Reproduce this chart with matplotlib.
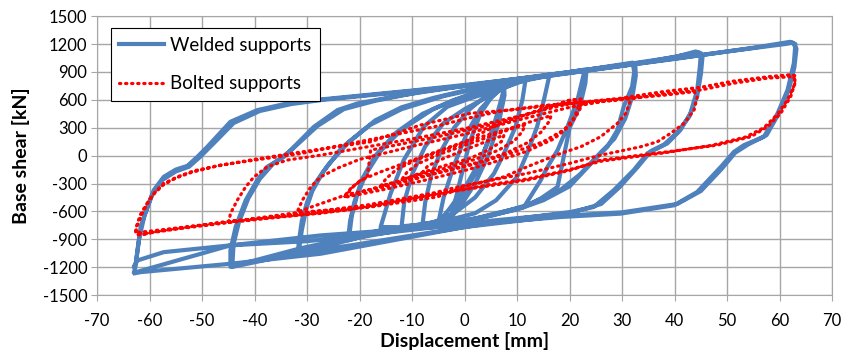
import numpy as np
import matplotlib
matplotlib.use("Agg")
import matplotlib.pyplot as plt

plt.rcParams['font.family'] = ['Lato', 'DejaVu Sans']
plt.rcParams['axes.unicode_minus'] = False

# welded supports - hysteresis loops (displacement mm, base shear kN)
w_small1 = [(-2.7, -700), (-1, -300), (1, 150), (3, 450), (5, 620), (7, 720), (7.4, 690),
            (5.5, 311), (2.4, -156), (-0.8, -479), (-2.7, -700)]
w_small2 = [(-5, -720), (-4, -450), (-2, -100), (0.5, 250), (3, 500), (6, 680), (7.5, 760),
            (7.2, 600), (5.5, 300), (3, -50), (0, -350), (-3, -580), (-5, -720)]
w_8 = [(-8, -730), (-7.5, -500), (-6.3, -200), (-4.5, 50), (-2, 300), (1, 500), (4, 640),
       (7.5, 770), (7.6, 650), (6.5, 350), (4.5, 0), (2, -300), (-1, -560), (-4, -690), (-8, -740)]
w_12 = [(-12, -760), (-11.5, -500), (-10, -200), (-7.5, 100), (-4, 350), (0, 500), (4, 620),
        (8, 740), (11.6, 830), (11.6, 814), (11, 599), (9.7, 311), (7.5, 24), (5.6, -192),
        (2, -450), (-2, -620), (-6, -720), (-12, -770)]
w_16 = [(-16, -768), (-14.1, -408), (-11.6, -48), (-7.8, 311), (-3.3, 526), (1.1, 617),
        (7, 720), (12, 820), (16.3, 875), (16.1, 850), (15.1, 599), (13.8, 311), (11.9, 24),
        (10, -228), (6, -480), (2, -620), (-5, -720), (-10, -770), (-16, -800)]
w_22 = [(-22.2, -900), (-21.8, -700), (-21, -500), (-19.5, -250), (-17, 0), (-13, 250),
        (-8, 450), (-2, 600), (4, 700), (10, 790), (16, 860), (22.8, 925), (22.7, 880),
        (21.5, 599), (19.6, 311), (17.7, 59), (15.8, -120), (14.5, -264), (11.3, -552),
        (5.6, -640), (0, -700), (-10, -780), (-18, -850), (-22.2, -910)]
w_22b = [(-22.0, -880), (-21.5, -650), (-20.5, -430), (-18.8, -200), (-16, 50), (-12, 280),
         (-6, 500), (0, 640), (8, 770), (16, 870), (23.2, 915), (23, 780), (22, 540),
         (20, 300), (17.7, -336), (14.5, -461), (11.3, -552), (5.6, -624), (0, -710),
         (-12, -800), (-22.0, -880)]
w_32 = [(-31.8, -1050), (-31.5, -900), (-31, -700), (-30, -500), (-28.5, -300), (-26, -100),
        (-22, 150), (-17, 380), (-12, 520), (-6, 620), (0, 700), (8, 790), (16, 860),
        (24, 930), (32, 1000), (32.3, 900), (31.9, 742), (30.3, 526), (29.1, 275), (27.2, 95),
        (25.9, 24), (23, -150), (20, -330), (15, -480), (10, -580), (0, -700), (-10, -780),
        (-20, -880), (-31.9, -1052)]
w_32b = [(-31.5, -1000), (-31, -800), (-30.2, -580), (-29, -380), (-27, -180), (-23.5, 80),
         (-18, 330), (-12, 500), (-4, 640), (4, 740), (14, 840), (24, 920), (32.5, 985),
         (32.6, 860), (32, 650), (30.6, 400), (28.5, 180), (26, 40), (22, -200), (18, -380),
         (12, -530), (4, -660), (-8, -760), (-20, -860), (-31.5, -1000)]
w_45 = [(-44.6, -1196), (-44.6, -1016), (-43.6, -766), (-41.7, -480), (-39.5, -264),
        (-37.6, -120), (-34.4, -13), (-28.7, 310), (-24.2, 490), (-20.4, 561), (-12, 650),
        (0, 750), (15, 860), (30, 975), (40, 1060), (44, 1120), (45, 1102), (44.8, 958),
        (44.3, 706), (43, 455), (41.1, 275), (38.6, 131), (36.7, 78), (34.8, 24),
        (32.2, -156), (28.4, -372), (24.6, -552), (20.2, -606), (10, -680), (0, -768),
        (-20, -950), (-31.9, -1052), (-44.2, -1196)]
w_45b = [(-44.2, -1150), (-44, -950), (-43, -720), (-41.2, -460), (-39, -250), (-36.5, -90),
         (-33, 60), (-28, 320), (-23, 500), (-17, 590), (-8, 690), (5, 790), (20, 900),
         (35, 1010), (44.5, 1110), (45.3, 1060), (45, 880), (44.3, 640), (42.8, 420),
         (40.5, 250), (38, 120), (35.5, 50), (33, -120), (29.5, -340), (26, -520),
         (20, -620), (5, -700), (-15, -830), (-30, -920), (-44.6, -965)]
w_63 = [(-63, -1260), (-62.7, -1200), (-62.3, -1016), (-61.7, -766), (-60.4, -550),
        (-59.2, -371), (-57.3, -228), (-55, -150), (-52.8, -110), (-50.9, -13), (-49, 95),
        (-44.6, 364), (-39.5, 489), (-33.8, 561), (-27.4, 604), (-10, 700), (0, 760),
        (20, 890), (40, 1040), (55, 1160), (62, 1224), (63, 1200), (62.7, 994), (61.5, 706),
        (59.6, 454), (57, 203), (53.2, 113), (51.3, 41), (48.8, -121), (44.3, -391),
        (39.9, -534), (29.7, -624), (18.3, -660), (0, -745), (-27.4, -858), (-44.6, -965),
        (-57.3, -1038), (-62.3, -1127), (-63, -1200)]
w_63b = [(-62.6, -1150), (-62, -900), (-61, -650), (-59.5, -420), (-57.5, -260), (-55, -170),
         (-52.5, -120), (-50.5, -20), (-48, 120), (-44, 350), (-39, 480), (-33, 555),
         (-27, 600), (0, 750), (31, 975), (50, 1120), (61, 1200), (62.5, 1215), (63.2, 1150),
         (62.8, 950), (61.8, 720), (60, 470), (57.5, 220), (54, 120), (51.5, 30), (49, -140),
         (45, -380), (40.5, -520), (30, -610), (18, -650), (0, -768), (-27.4, -1055),
         (-44.6, -1163), (-61.7, -1253), (-62.8, -1265)]

# bolted supports
b_8 = [(-8, -180), (-7, -110), (-4, -30), (0, 60), (4, 150), (7.5, 220), (7, 150), (4.5, 60),
       (1, -30), (-4, -110), (-8, -180)]
b_12 = [(-12, -260), (-11, -180), (-9, -90), (-5, 10), (0, 110), (5, 210), (9, 290), (11.5, 330),
        (11, 260), (9.5, 160), (6.5, 60), (2, -40), (-4, -140), (-9, -210), (-12, -260)]
b_16 = [(-16, -330), (-15, -250), (-13, -150), (-9, -40), (-3, 80), (3, 200), (9, 300),
        (14, 390), (16.5, 430), (16, 360), (14.5, 250), (12, 140), (8, 30), (2, -80),
        (-5, -180), (-11, -260), (-16, -330)]
b_22 = [(-23, -444), (-21.7, -354), (-19.8, -264), (-16, -175), (-10, -50), (-5, 50), (0, 150),
        (7.5, 365), (15, 500), (20.2, 599), (22.3, 610), (22.5, 560), (21.5, 450), (20, 320),
        (17, 180), (12, 50), (5, -80), (0, -160), (-8, -270), (-15, -360), (-23, -450)]
b_22b = [(-22.5, -420), (-21, -320), (-18.5, -220), (-17.9, 59), (-5.2, 203), (7.5, 365),
         (20.2, 599), (22, 590), (21, 420), (19, 280), (15, 150), (9, 30), (2, -90),
         (-6, -200), (-14, -320), (-22.5, -420)]
b_32 = [(-31.9, -606), (-30.9, -480), (-29.3, -336), (-27.4, -228), (-24, -130), (-20, -40),
        (-10, 100), (0, 230), (10, 380), (20, 520), (26, 580), (31, 617), (31.6, 599),
        (30.7, 455), (29.1, 347), (25.9, 203), (22.1, 95), (18.3, 24), (11.9, -120),
        (7.5, -228), (0, -330), (-5.2, -444), (-17.9, -552), (-31.5, -610)]
b_45 = [(-44.9, -714), (-44.6, -623), (-43.3, -480), (-41.7, -336), (-40.1, -228),
        (-37.6, -120), (-33.8, -48), (-27.4, 5), (-20, 80), (-10, 180), (0, 290), (10, 420),
        (20, 560), (30, 610), (38, 650), (43.7, 688), (44.3, 634), (43.7, 491), (41.8, 347),
        (39.2, 239), (36.7, 149), (33.5, 95), (25.9, 5), (20.2, -80), (12, -190), (5.5, -260),
        (-0.8, -330), (-5.8, -400), (-18.5, -530), (-31.2, -624), (-44.9, -714)]
b_63 = [(-62.7, -830), (-62.3, -749), (-61.4, -623), (-60.4, -515), (-59.2, -408),
        (-57.3, -300), (-54.7, -228), (-51.6, -164), (-46.5, -102), (-40.1, -49), (-31, 24),
        (-24.9, 95), (-18.5, 167), (-12.2, 239), (-5.8, 310), (0.5, 401), (7, 480), (15, 540),
        (25.9, 580), (32.2, 617), (38.6, 671), (45, 706), (51.3, 779), (57.7, 833),
        (62.7, 850), (62.9, 779), (62.1, 634), (60.2, 455), (57.7, 311), (54.5, 203),
        (48.1, 113), (38.6, 41), (25.9, -48), (20.2, -156), (11.9, -264), (5.6, -318),
        (-0.8, -372), (-10, -460), (-18.5, -552), (-27.4, -620), (-44.6, -703), (-52.8, -768),
        (-59.2, -821), (-61.7, -858), (-62.7, -840)]
b_63b = [(-62.5, -760), (-61.8, -640), (-60.8, -540), (-59.5, -430), (-57.5, -320),
         (-55, -240), (-52, -180), (-47, -110), (-40, -40), (-31, 40), (-17.9, 149),
         (-8.4, 329), (1.1, 455), (8.8, 491), (20.2, 563), (29.7, 617), (38, 690), (45, 735),
         (51, 800), (58, 850), (62, 870), (63, 860), (62.8, 760), (61.5, 600), (59.5, 440),
         (57, 300), (53.5, 200), (47, 110), (38, 30), (26, -60), (20, -150), (12, -250),
         (5, -310), (-2, -380), (-12, -480), (-22, -580), (-30, -630), (-45, -720),
         (-55, -790), (-61, -840), (-62.5, -830)]

weld_loops = [w_small1, w_small2, w_8, w_12, w_16, w_22, w_22b, w_32, w_32b, w_45, w_45b, w_63, w_63b]
bolt_loops = [b_8, b_12, b_16, b_22, b_22b, b_32, b_45, b_63, b_63b]

xticks = np.arange(-70, 71, 10)
yticks = np.arange(-1500, 1501, 300)

fig = plt.figure(figsize=(8.44, 3.59), dpi=100)
ax = fig.add_axes([0.115, 0.178, 0.871, 0.777])

wx = [p[0] for loop in weld_loops for p in loop]
wy = [p[1] for loop in weld_loops for p in loop]
bx = [p[0] for loop in bolt_loops for p in loop]
by = [p[1] for loop in bolt_loops for p in loop]

ax.plot(wx, wy, color="#4F81BD", lw=3, solid_joinstyle="round", label="Welded supports", zorder=3)
ax.plot(bx, by, color="#FF0000", lw=2.3, linestyle=(0, (0.4, 1.5)), dash_capstyle="round",
        label="Bolted supports", zorder=4)

ax.set_xlim(-70, 70)
ax.set_ylim(-1500, 1500)
ax.set_xticks(xticks)
ax.set_yticks(yticks)
ax.grid(True, color="#A6A6A6", lw=1)
ax.set_axisbelow(True)
for s in ax.spines.values():
    s.set_color("#A6A6A6")
ax.tick_params(direction="out", length=4, color="#A6A6A6", labelsize=12)
ax.tick_params(axis="x", pad=9)
ax.tick_params(axis="y", pad=3)
ax.set_xlabel("Displacement [mm]", fontsize=14, fontweight="bold", labelpad=2)
ax.set_ylabel("Base shear [kN]", fontsize=14, fontweight="bold", labelpad=9)

leg = ax.legend(loc="upper left", bbox_to_anchor=(0.006, 0.99), fontsize=13.5,
                fancybox=False, framealpha=1, edgecolor="black", handlelength=2.4,
                labelspacing=1.15, borderpad=0.45, handletextpad=0.3)
leg.get_frame().set_linewidth(0.8)

fig.savefig("out.png", dpi=100)
